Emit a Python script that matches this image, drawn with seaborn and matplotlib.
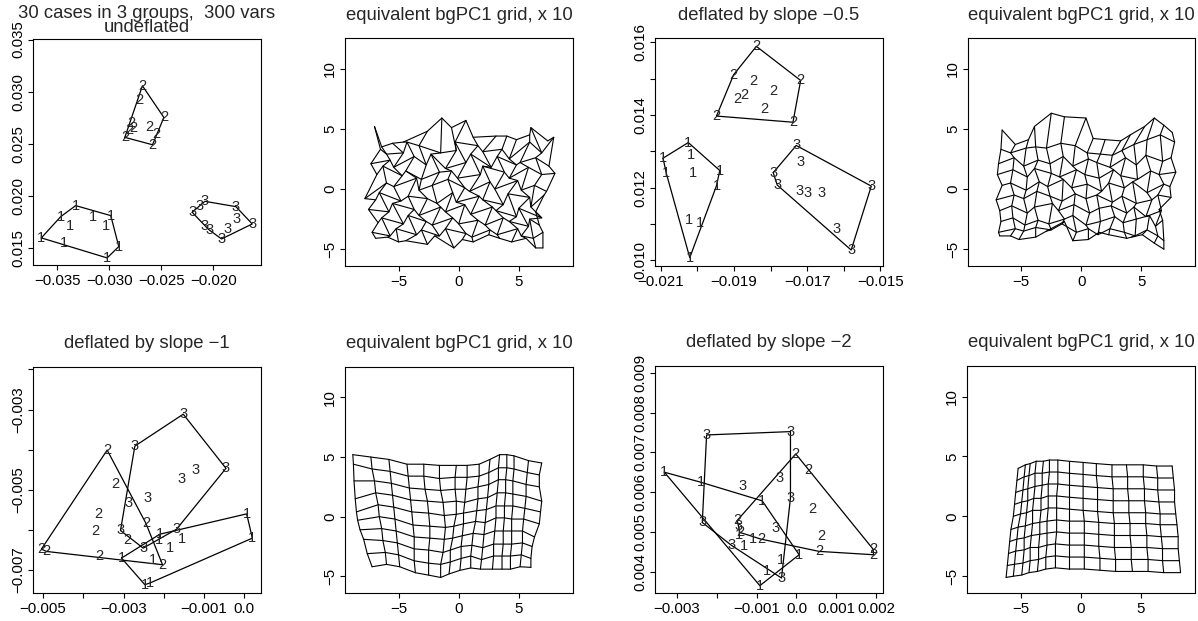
import numpy as np
import pandas as pd
import matplotlib
matplotlib.use("Agg")
import matplotlib.pyplot as plt
from matplotlib.ticker import FixedLocator, FixedFormatter
import seaborn as sns

sns.set_style("ticks")
plt.rcParams['font.family'] = ['Liberation Sans', 'DejaVu Sans']

# ---------------- data ----------------
GROUPS = [1] * 10 + [2] * 10 + [3] * 10

P1_X = [-0.03651, -0.03465, -0.03321, -0.03378, -0.03154, -0.02984, -0.03032, -0.02907, -0.03019, -0.03433,
        -0.02680, -0.02712, -0.02474, -0.02785, -0.02763, -0.02808, -0.02615, -0.02545, -0.02849, -0.02583,
        -0.02202, -0.02128, -0.02080, -0.01782, -0.01776, -0.01625, -0.02080, -0.02039, -0.01865, -0.01920]
P1_Y = [0.01596, 0.01800, 0.01906, 0.01714, 0.01794, 0.01810, 0.01714, 0.01513, 0.01404, 0.01548,
        0.03056, 0.02922, 0.02752, 0.02695, 0.02650, 0.02631, 0.02663, 0.02593, 0.02561, 0.02490,
        0.01842, 0.01906, 0.01947, 0.01896, 0.01778, 0.01730, 0.01714, 0.01673, 0.01682, 0.01586]

P3_X = [-0.02094, -0.02025, -0.02019, -0.02085, -0.02012, -0.01939, -0.01948, -0.02023, -0.01994, -0.02021,
        -0.01839, -0.01901, -0.01846, -0.01718, -0.01792, -0.01871, -0.01892, -0.01816, -0.01948, -0.01739,
        -0.01730, -0.01719, -0.01793, -0.01782, -0.01721, -0.01698, -0.01661, -0.01525, -0.01620, -0.01580]
P3_Y = [0.01281, 0.01324, 0.01290, 0.01239, 0.01239, 0.01247, 0.01205, 0.01110, 0.01103, 0.01007,
        0.01589, 0.01511, 0.01494, 0.01495, 0.01467, 0.01455, 0.01443, 0.01416, 0.01397, 0.01380,
        0.01316, 0.01270, 0.01241, 0.01207, 0.01191, 0.01184, 0.01186, 0.01204, 0.01087, 0.01028]

P5_X = [0.000057, 0.000198, -0.001560, -0.001850, -0.002098, -0.002115, -0.003052, -0.002264, -0.002472, -0.002347,
        -0.003408, -0.003201, -0.003632, -0.003698, -0.002447, -0.002911, -0.003591, -0.002032, -0.005041, -0.004917,
        -0.001518, -0.002720, -0.000457, -0.001211, -0.001560, -0.002413, -0.002869, -0.003077, -0.001684, -0.002513]
P5_Y = [-0.005606, -0.006212, -0.006237, -0.006461, -0.006113, -0.006254, -0.006710, -0.006768, -0.007374, -0.007333,
        -0.004013, -0.004859, -0.005606, -0.006046, -0.005839, -0.006254, -0.006652, -0.006876, -0.006486, -0.006544,
        -0.003116, -0.003913, -0.004469, -0.004511, -0.004743, -0.005216, -0.005324, -0.006021, -0.005988, -0.006461]

P7_X = [-0.003308, -0.002400, -0.000858, 0.000067, -0.000392, -0.000733, -0.000917, -0.001317, -0.001100, -0.001433,
        -0.000017, 0.000292, 0.000400, 0.000625, 0.000567, 0.001917, 0.001933, -0.000892, -0.001483, -0.001417,
        -0.002250, -0.000150, -0.001350, -0.000417, -0.000150, -0.000525, -0.002358, -0.001458, -0.001625, -0.000375]
P7_Y = [0.006505, 0.006255, 0.005787, 0.004434, 0.004292, 0.004017, 0.003658, 0.004643, 0.004827, 0.004935,
        0.006964, 0.006563, 0.005578, 0.004893, 0.004518, 0.004576, 0.004434, 0.004827, 0.005294, 0.004994,
        0.007440, 0.007524, 0.006163, 0.006355, 0.005854, 0.005102, 0.005244, 0.005144, 0.004668, 0.003850]

# deformation grids: 10 rows x 15 columns of node coordinates
G2_X = [[-7.0, -6.4, -5.5, -4.6, -2.6, -1.4, -0.6, 0.6, 1.2, 3.1, 4.0, 4.8, 5.9, 6.0, 7.4],
        [-6.5, -6.0, -4.6, -4.3, -3.3, -1.5, -0.2, -0.3, 1.6, 2.0, 3.6, 4.2, 5.9, 6.9, 7.9],
        [-7.3, -5.7, -5.4, -3.7, -2.7, -2.3, -1.1, 0.6, 1.0, 2.7, 3.2, 4.8, 5.1, 6.4, 7.5],
        [-6.8, -6.3, -4.7, -4.4, -3.1, -1.6, -0.6, -0.1, 1.8, 2.0, 3.8, 4.2, 5.8, 6.9, 8.0],
        [-7.8, -6.0, -5.4, -3.5, -3.3, -2.2, -0.9, 0.5, 0.9, 2.6, 3.0, 4.9, 5.2, 6.3, 7.3],
        [-6.9, -6.6, -4.8, -4.2, -2.6, -1.8, -0.5, -0.2, 1.7, 2.0, 3.7, 4.1, 5.9, 6.0, 7.1],
        [-7.5, -5.8, -5.5, -3.7, -3.3, -1.5, -1.1, 0.5, 1.0, 2.8, 3.1, 4.8, 5.0, 6.9, 6.4],
        [-6.7, -6.4, -4.6, -4.2, -2.7, -2.2, -0.5, 0.0, 1.6, 2.2, 3.7, 4.2, 5.8, 5.9, 6.7],
        [-7.2, -5.7, -5.2, -3.5, -3.1, -1.6, -1.1, 0.6, 1.1, 2.6, 3.2, 4.9, 5.2, 6.2, 7.0],
        [-6.9, -5.9, -5.0, -4.4, -2.6, -2.0, -0.4, 0.3, 1.2, 2.5, 3.4, 4.4, 5.6, 6.4, 7.0]]
G2_Y = [[5.2, 3.5, 3.8, 3.9, 4.8, 5.9, 5.1, 5.7, 4.3, 4.4, 4.4, 4.1, 4.5, 5.1, 4.0],
        [3.3, 2.9, 3.0, 3.9, 3.6, 3.0, 3.2, 3.9, 3.6, 3.1, 3.3, 2.5, 3.9, 3.0, 4.3],
        [2.1, 2.4, 1.8, 2.7, 2.0, 2.9, 1.7, 2.2, 2.9, 1.8, 2.7, 2.0, 2.2, 2.6, 1.9],
        [1.2, 1.9, 1.1, 1.5, 0.8, 1.4, 1.5, 0.9, 1.2, 1.9, 1.4, 0.9, 1.8, 1.2, 1.3],
        [-0.8, 0.5, 0.2, 0.9, -0.1, 0.3, 0.8, 0.1, -0.2, 0.6, 0.0, 0.7, -0.1, 0.3, -0.2],
        [-0.9, -0.3, -1.0, -0.6, -0.8, -1.2, -0.3, -1.1, -0.6, -0.9, -1.3, -0.4, -0.7, -1.5, -0.5],
        [-1.7, -1.9, -1.2, -1.7, -2.2, -1.5, -1.9, -1.3, -2.1, -1.5, -1.8, -2.3, -1.6, -2.4, -1.9],
        [-2.8, -2.4, -2.9, -2.2, -2.7, -3.0, -2.4, -2.9, -2.6, -3.0, -2.4, -2.7, -3.1, -2.5, -3.0],
        [-3.6, -3.9, -3.3, -3.8, -3.4, -3.9, -3.3, -3.7, -4.0, -3.4, -3.8, -3.3, -3.9, -4.1, -3.6],
        [-4.1, -4.0, -4.4, -4.3, -4.6, -3.9, -4.9, -4.2, -4.4, -3.8, -4.1, -4.4, -4.1, -4.9, -4.9]]

G4_X = [[-6.6, -5.5, -4.4, -3.9, -2.5, -1.4, 0.4, 1.0, 2.0, 3.3, 4.1, 5.3, 6.1, 6.9, 7.6],
        [-6.7, -5.9, -4.6, -3.8, -2.9, -1.7, -0.5, 0.5, 1.6, 2.6, 3.4, 4.4, 5.5, 6.6, 7.8],
        [-6.9, -5.6, -4.8, -3.6, -2.6, -1.5, -0.7, 0.6, 1.3, 2.4, 3.7, 4.6, 5.4, 6.8, 7.5],
        [-7.0, -5.7, -4.5, -3.9, -2.5, -1.8, -0.4, 0.3, 1.5, 2.7, 3.3, 4.7, 5.8, 6.5, 7.9],
        [-6.6, -5.9, -4.6, -3.5, -2.8, -1.5, -0.8, 0.5, 1.7, 2.3, 3.6, 4.3, 5.5, 6.9, 7.4],
        [-7.1, -5.6, -4.8, -3.7, -2.6, -1.6, -0.5, 0.4, 1.3, 2.6, 3.4, 4.6, 5.9, 6.4, 7.5],
        [-6.8, -5.8, -4.5, -3.9, -2.4, -1.9, -0.6, 0.7, 1.5, 2.5, 3.8, 4.4, 5.4, 6.7, 6.5],
        [-6.7, -5.7, -4.7, -3.6, -2.7, -1.4, -0.7, 0.4, 1.6, 2.8, 3.5, 4.6, 5.7, 6.2, 6.8],
        [-6.9, -5.5, -4.8, -3.8, -2.5, -1.6, -0.4, 0.6, 1.4, 2.4, 3.6, 4.5, 5.5, 6.4, 6.9],
        [-6.8, -5.9, -5.2, -3.8, -2.9, -1.4, -0.7, 0.6, 1.5, 2.3, 3.8, 4.2, 5.1, 6.1, 6.9]]
G4_Y = [[4.9, 3.7, 4.1, 5.2, 6.3, 6.0, 5.9, 4.2, 4.1, 4.0, 4.5, 5.2, 5.9, 5.3, 4.7],
        [3.3, 3.0, 3.4, 3.5, 3.4, 3.8, 3.6, 3.0, 2.9, 2.8, 3.2, 3.7, 4.1, 4.5, 3.9],
        [2.1, 2.6, 1.9, 2.4, 2.1, 2.7, 1.9, 2.5, 2.2, 1.8, 2.6, 2.0, 2.8, 2.3, 2.6],
        [1.2, 1.6, 1.0, 1.7, 1.3, 1.0, 1.6, 1.2, 0.9, 1.6, 1.1, 0.8, 1.5, 1.2, 1.4],
        [0.3, 0.5, -0.1, 0.6, 0.2, 0.8, 0.1, 0.4, -0.2, 0.5, 0.1, 0.6, -0.3, 0.4, 0.2],
        [-0.9, -0.5, -0.8, -0.2, -0.6, -1.0, -0.4, -0.8, -0.5, -1.1, -0.6, -1.2, -0.9, -0.5, -0.7],
        [-1.8, -1.4, -2.0, -1.5, -1.2, -1.8, -1.3, -2.0, -1.6, -1.4, -2.0, -1.5, -2.3, -1.8, -1.7],
        [-2.7, -2.4, -3.0, -2.6, -2.9, -2.5, -2.2, -3.0, -2.7, -2.3, -2.8, -2.5, -2.2, -3.1, -2.6],
        [-3.6, -3.3, -3.5, -3.2, -3.4, -2.9, -3.6, -3.3, -3.8, -3.3, -3.6, -3.9, -3.4, -3.9, -4.3],
        [-3.9, -3.9, -4.2, -4.0, -3.5, -2.7, -4.3, -4.2, -3.6, -3.8, -4.1, -4.0, -3.8, -4.5, -5.0]]

G6_X = [[-8.8, -7.3, -5.8, -4.3, -2.9, -1.6, -0.2, 0.7, 1.7, 2.6, 3.4, 4.0, 4.6, 5.8, 6.9],
        [-8.75, -7.2, -5.7, -4.2, -2.9, -1.6, -0.3, 0.7, 1.7, 2.5, 3.3, 4.0, 4.6, 5.7, 6.7],
        [-8.7, -7.0, -5.6, -4.1, -2.8, -1.5, -0.3, 0.6, 1.6, 2.5, 3.3, 3.9, 4.5, 5.6, 6.7],
        [-8.6, -6.9, -5.5, -4.0, -2.6, -1.3, -0.2, 0.5, 1.6, 2.4, 3.2, 3.9, 4.5, 5.6, 6.9],
        [-8.5, -6.7, -5.4, -3.9, -2.5, -1.2, -0.2, 0.4, 1.5, 2.3, 3.1, 3.8, 4.5, 5.5, 6.8],
        [-8.4, -6.6, -5.3, -3.8, -2.4, -1.1, -0.4, 0.4, 1.4, 2.2, 3.1, 3.8, 4.4, 5.4, 6.7],
        [-8.2, -6.4, -5.2, -3.7, -2.4, -1.2, -0.5, 0.3, 1.2, 2.1, 3.0, 3.7, 4.4, 5.3, 6.3],
        [-7.9, -6.3, -5.1, -3.7, -2.5, -1.3, -0.7, 0.2, 1.1, 2.0, 2.9, 3.7, 4.4, 5.3, 6.1],
        [-7.6, -6.1, -5.0, -3.7, -2.5, -1.5, -0.7, 0.2, 1.0, 1.9, 2.9, 3.6, 4.3, 5.2, 6.0],
        [-7.2, -6.0, -4.9, -3.6, -2.5, -1.5, -0.8, 0.1, 1.0, 1.8, 2.8, 3.6, 4.3, 5.1, 6.0]]
G6_Y = [[5.2, 5.0, 4.8, 4.4, 4.4, 4.3, 4.3, 4.3, 4.4, 4.8, 5.2, 5.2, 5.1, 4.7, 4.5],
        [4.4, 4.0, 3.8, 3.4, 3.4, 3.2, 3.3, 3.3, 3.4, 3.7, 4.1, 4.1, 4.0, 3.7, 3.5],
        [3.0, 3.0, 2.8, 2.4, 2.3, 2.2, 2.3, 2.3, 2.5, 2.7, 3.1, 3.1, 3.0, 2.7, 2.5],
        [1.5, 2.0, 1.8, 1.4, 1.3, 1.2, 1.3, 1.2, 1.5, 1.6, 2.0, 2.0, 1.9, 1.7, 1.3],
        [0.4, 1.0, 0.8, 0.4, 0.3, 0.1, 0.2, 0.3, 0.5, 0.6, 0.9, 0.9, 0.9, 0.7, 0.4],
        [-0.3, 0.0, -0.2, -0.7, -0.8, -0.9, -0.8, -0.6, -0.4, -0.5, -0.1, -0.1, -0.2, -0.2, -0.6],
        [-1.1, -1.0, -1.2, -1.7, -1.8, -1.9, -1.8, -1.6, -1.4, -1.5, -1.2, -1.2, -1.2, -1.2, -1.7],
        [-1.9, -2.0, -2.2, -2.7, -2.8, -3.0, -2.8, -2.5, -2.4, -2.6, -2.3, -2.3, -2.3, -2.2, -2.5],
        [-3.1, -3.0, -3.2, -3.7, -3.9, -4.0, -3.8, -3.5, -3.3, -3.6, -3.3, -3.3, -3.3, -3.2, -3.5],
        [-4.2, -4.0, -4.2, -4.7, -4.9, -5.1, -4.8, -4.5, -4.3, -4.4, -4.4, -4.4, -4.4, -4.2, -4.25]]

G8_X = [[-5.2, -4.6, -4.2, -3.7, -3.1, -2.6, -1.9, -1.0, 0.2, 1.3, 2.6, 3.8, 5.2, 6.3, 7.6],
        [-5.3, -4.7, -4.3, -3.8, -3.2, -2.6, -1.9, -1.0, 0.2, 1.3, 2.6, 3.9, 5.2, 6.4, 7.7],
        [-5.4, -4.8, -4.4, -3.8, -3.2, -2.7, -1.9, -1.0, 0.2, 1.4, 2.7, 3.9, 5.3, 6.4, 7.8],
        [-5.5, -4.9, -4.4, -3.9, -3.3, -2.7, -2.0, -1.0, 0.2, 1.4, 2.7, 4.0, 5.3, 6.5, 7.8],
        [-5.6, -5.0, -4.5, -4.0, -3.3, -2.7, -2.0, -1.0, 0.2, 1.4, 2.7, 4.0, 5.4, 6.6, 7.9],
        [-5.8, -5.2, -4.6, -4.0, -3.4, -2.8, -2.0, -1.0, 0.3, 1.5, 2.8, 4.1, 5.4, 6.6, 8.0],
        [-5.9, -5.3, -4.7, -4.1, -3.4, -2.8, -2.0, -1.0, 0.3, 1.5, 2.8, 4.1, 5.5, 6.7, 8.1],
        [-6.0, -5.4, -4.7, -4.2, -3.5, -2.8, -2.1, -1.0, 0.3, 1.5, 2.8, 4.2, 5.5, 6.8, 8.1],
        [-6.1, -5.5, -4.8, -4.2, -3.5, -2.9, -2.1, -1.0, 0.3, 1.6, 2.9, 4.2, 5.6, 6.8, 8.2],
        [-6.2, -5.6, -4.9, -4.3, -3.6, -2.9, -2.1, -1.0, 0.3, 1.6, 2.9, 4.3, 5.6, 6.9, 8.3]]
G8_Y = [[4.0, 4.3, 4.4, 4.6, 4.6, 4.7, 4.7, 4.6, 4.5, 4.4, 4.3, 4.3, 4.3, 4.2, 4.2],
        [3.0, 3.3, 3.4, 3.6, 3.6, 3.7, 3.7, 3.6, 3.5, 3.4, 3.3, 3.3, 3.3, 3.2, 3.2],
        [2.0, 2.2, 2.3, 2.5, 2.6, 2.7, 2.7, 2.6, 2.5, 2.4, 2.3, 2.3, 2.3, 2.2, 2.2],
        [1.0, 1.2, 1.3, 1.5, 1.5, 1.7, 1.7, 1.6, 1.5, 1.4, 1.3, 1.3, 1.3, 1.2, 1.2],
        [0.0, 0.2, 0.3, 0.5, 0.5, 0.7, 0.7, 0.6, 0.5, 0.4, 0.3, 0.3, 0.3, 0.2, 0.2],
        [-1.1, -0.9, -0.8, -0.6, -0.5, -0.4, -0.3, -0.4, -0.4, -0.5, -0.6, -0.6, -0.6, -0.7, -0.7],
        [-2.1, -1.9, -1.8, -1.6, -1.5, -1.4, -1.3, -1.4, -1.4, -1.5, -1.6, -1.6, -1.6, -1.7, -1.7],
        [-3.1, -2.9, -2.8, -2.6, -2.6, -2.4, -2.3, -2.4, -2.4, -2.5, -2.6, -2.6, -2.6, -2.7, -2.7],
        [-4.1, -4.0, -3.9, -3.7, -3.6, -3.4, -3.3, -3.4, -3.4, -3.5, -3.6, -3.6, -3.6, -3.7, -3.7],
        [-5.1, -5.0, -4.9, -4.7, -4.6, -4.4, -4.3, -4.4, -4.4, -4.5, -4.6, -4.6, -4.6, -4.7, -4.7]]

TITLE_TOP_LEFT = ["30 cases in 3 groups,  300 vars", "undeflated"]
TITLE_GRID = "equivalent bgPC1 grid, x 10"
TITLE_P3 = "deflated by slope \u22120.5"
TITLE_P5 = "deflated by slope \u22121"
TITLE_P7 = "deflated by slope \u22122"

P1_XT = [-0.035, -0.030, -0.025, -0.020]
P1_XL = ["\u22120.035", "\u22120.030", "\u22120.025", "\u22120.020"]
P1_YT = [0.015, 0.020, 0.025, 0.030, 0.035]
P1_YL = ["0.015", "0.020", "0.025", "0.030", "0.035"]
P3_XT = [-0.021, -0.020, -0.019, -0.018, -0.017, -0.016, -0.015]
P3_XL = ["\u22120.021", "", "\u22120.019", "", "\u22120.017", "", "\u22120.015"]
P3_YT = [0.010, 0.011, 0.012, 0.013, 0.014, 0.015, 0.016]
P3_YL = ["0.010", "", "0.012", "", "0.014", "", "0.016"]
P5_XT = [-0.005, -0.004, -0.003, -0.002, -0.001, 0.0]
P5_XL = ["\u22120.005", "", "\u22120.003", "", "\u22120.001", "0.0"]
P5_YT = [-0.007, -0.006, -0.005, -0.004, -0.003, -0.002]
P5_YL = ["\u22120.007", "", "\u22120.005", "", "\u22120.003", ""]
P7_XT = [-0.003, -0.002, -0.001, 0.0, 0.001, 0.002]
P7_XL = ["\u22120.003", "", "\u22120.001", "0.0", "0.001", "0.002"]
P7_YT = [0.004, 0.005, 0.006, 0.007, 0.008, 0.009]
P7_YL = ["0.004", "0.005", "0.006", "0.007", "0.008", "0.009"]
G_XT = [-5, 0, 5]
G_XL = ["\u22125", "0", "5"]
G_YT = [-5, 0, 5, 10]
G_YL = ["\u22125", "0", "5", "10"]

# ---------------- layout ----------------
W, H = 1198, 621
fig = plt.figure(figsize=(W / 100, H / 100), dpi=100)
fig.patch.set_facecolor("white")

FS_TICK = 10.8
FS_TITLE = 13.3
FS_LAB = 10.5


def add_ax(l, t, r, b):
    ax = fig.add_axes([l / W, 1 - b / H, (r - l) / W, (b - t) / H])
    ax.set_facecolor("white")
    for s in ax.spines.values():
        s.set_visible(True)
        s.set_color("black")
        s.set_linewidth(0.8)
    ax.tick_params(direction="out", length=3.6, width=0.8, color="black",
                   labelsize=FS_TICK, labelcolor="black")
    ax.tick_params(axis="x", pad=3.0)
    ax.tick_params(axis="y", pad=2.0)
    ax.grid(False)
    return ax


def set_ticks(ax, xt, xl, yt, yl):
    ax.xaxis.set_major_locator(FixedLocator(xt))
    ax.xaxis.set_major_formatter(FixedFormatter(xl))
    ax.yaxis.set_major_locator(FixedLocator(yt))
    ax.yaxis.set_major_formatter(FixedFormatter(yl))
    for lab in ax.get_yticklabels():
        lab.set_rotation(90)
        lab.set_va("center")
    ax.set_xlabel("")
    ax.set_ylabel("")


def title(ax, text, y=1.097):
    ax.text(0.5, y, text, transform=ax.transAxes, ha="center", va="center",
            fontsize=FS_TITLE)


def hull(points):
    pts = sorted(set(points))
    if len(pts) <= 2:
        return pts

    def cross(o, a, b):
        return (a[0] - o[0]) * (b[1] - o[1]) - (a[1] - o[1]) * (b[0] - o[0])
    lower, upper = [], []
    for p in pts:
        while len(lower) >= 2 and cross(lower[-2], lower[-1], p) <= 0:
            lower.pop()
        lower.append(p)
    for p in reversed(pts):
        while len(upper) >= 2 and cross(upper[-2], upper[-1], p) <= 0:
            upper.pop()
        upper.append(p)
    return lower[:-1] + upper[:-1]


def scatter_panel(ax, xs, ys):
    df = pd.DataFrame({"x": xs, "y": ys, "g": GROUPS})
    rows = []
    for g in [1, 2, 3]:
        sub = df[df.g == g]
        h = hull(list(zip(sub.x, sub.y)))
        h = h + [h[0]]
        for i, (hx, hy) in enumerate(h):
            rows.append({"x": hx, "y": hy, "u": g, "o": i})
    hdf = pd.DataFrame(rows)
    sns.lineplot(data=hdf, x="x", y="y", units="u", estimator=None, sort=False,
                 color="black", lw=0.9, ax=ax, legend=False)
    for x, y, g in zip(df.x, df.y, df.g):
        ax.text(x, y, str(g), ha="center", va="center", fontsize=FS_LAB)


def grid_panel(ax, gx, gy, ty=1.097):
    gx = np.array(gx)
    gy = np.array(gy)
    rows = []
    uid = 0
    nr, nc = gx.shape
    for r in range(nr):
        for c in range(nc):
            rows.append({"x": gx[r, c], "y": gy[r, c], "u": uid})
        uid += 1
    for c in range(nc):
        for r in range(nr):
            rows.append({"x": gx[r, c], "y": gy[r, c], "u": uid})
        uid += 1
    df = pd.DataFrame(rows)
    sns.lineplot(data=df, x="x", y="y", units="u", estimator=None, sort=False,
                 color="black", lw=0.8, ax=ax, legend=False)
    ax.set_xlim(-9.45, 9.5)
    ax.set_ylim(-6.4, 12.55)
    set_ticks(ax, G_XT, G_XL, G_YT, G_YL)
    title(ax, TITLE_GRID, ty)


# panel 1
ax1 = add_ax(33, 39, 261, 265)
scatter_panel(ax1, P1_X, P1_Y)
ax1.set_xlim(-0.03731, -0.01541)
ax1.set_ylim(0.01336, 0.03505)
set_ticks(ax1, P1_XT, P1_XL, P1_YT, P1_YL)
ax1.text(0.5, 1.111, TITLE_TOP_LEFT[0], transform=ax1.transAxes, ha="center",
         va="center", fontsize=FS_TITLE)
ax1.text(0.5, 1.050, TITLE_TOP_LEFT[1], transform=ax1.transAxes, ha="center",
         va="center", fontsize=FS_TITLE)

# panel 2
ax2 = add_ax(345, 38, 573, 266)
grid_panel(ax2, G2_X, G2_Y)

# panel 3
ax3 = add_ax(655, 38, 883, 266)
scatter_panel(ax3, P3_X, P3_Y)
ax3.set_xlim(-0.02116, -0.01493)
ax3.set_ylim(0.00984, 0.01612)
set_ticks(ax3, P3_XT, P3_XL, P3_YT, P3_YL)
title(ax3, TITLE_P3)

# panel 4
ax4 = add_ax(968, 38, 1195, 266)
grid_panel(ax4, G4_X, G4_Y)

# panel 5
ax5 = add_ax(33, 367, 261, 593)
scatter_panel(ax5, P5_X, P5_Y)
ax5.set_xlim(-0.00525, 0.000413)
ax5.set_ylim(-0.007582, -0.001938)
set_ticks(ax5, P5_XT, P5_XL, P5_YT, P5_YL)
title(ax5, TITLE_P5, 1.105)

# panel 6
ax6 = add_ax(345, 367, 573, 593)
grid_panel(ax6, G6_X, G6_Y, 1.105)

# panel 7
ax7 = add_ax(655, 366, 883, 593)
scatter_panel(ax7, P7_X, P7_Y)
ax7.set_xlim(-0.003542, 0.002167)
ax7.set_ylim(0.003474, 0.00917)
set_ticks(ax7, P7_XT, P7_XL, P7_YT, P7_YL)
title(ax7, TITLE_P7, 1.105)

# panel 8
ax8 = add_ax(967, 366, 1195, 593)
grid_panel(ax8, G8_X, G8_Y, 1.105)

fig.savefig("out.png", dpi=100, facecolor="white")
